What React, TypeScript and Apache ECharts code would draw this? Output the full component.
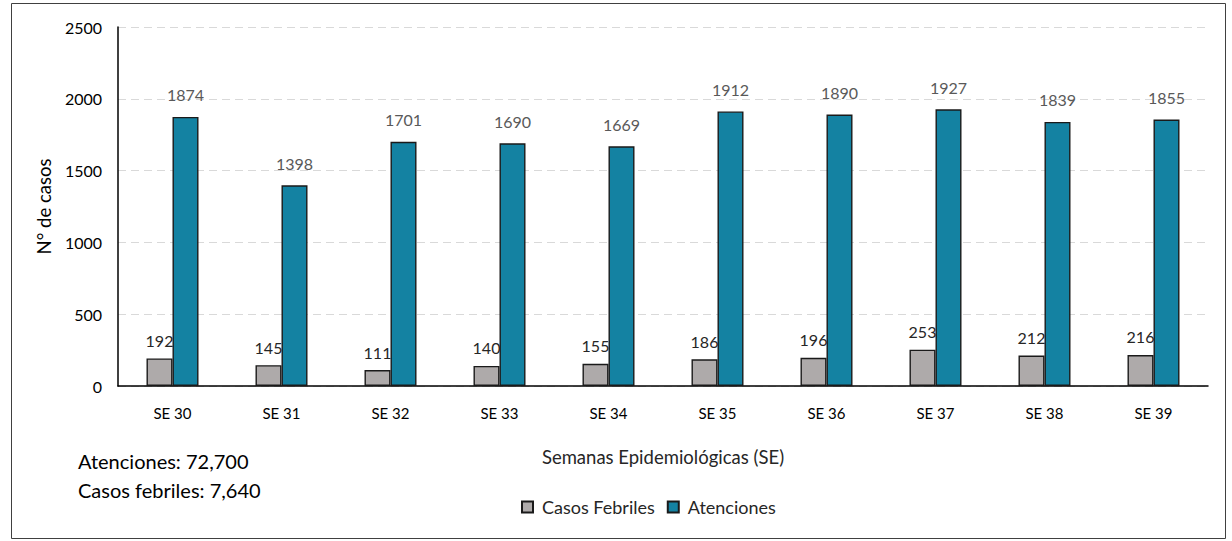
import React, { useEffect, useRef } from "react";
import * as echarts from "echarts";

const categories = ["SE 30", "SE 31", "SE 32", "SE 33", "SE 34", "SE 35", "SE 36", "SE 37", "SE 38", "SE 39"];
const casosFebriles = [192, 145, 111, 140, 155, 186, 196, 253, 212, 216];
const atenciones = [1874, 1398, 1701, 1690, 1669, 1912, 1890, 1927, 1839, 1855];
const summaryLines = ["Atenciones: 72,700", "Casos febriles: 7,640"];

const FONT = "Lato, 'Open Sans', sans-serif";

export default function App() {
  const ref = useRef<HTMLDivElement>(null);
  useEffect(() => {
    if (!ref.current) return;
    const chart = echarts.init(ref.current, undefined, { renderer: "svg" });
    chart.setOption({
      animation: false,
      backgroundColor: "#ffffff",
      textStyle: { fontFamily: FONT },
      grid: { left: 118, right: 24, top: 27, bottom: 155, containLabel: false },
      legend: {
        bottom: 20,
        left: 516,
        itemWidth: 11,
        itemHeight: 11,
        itemGap: 12,
        icon: "rect",
        textStyle: { fontFamily: FONT, fontSize: 18, color: "#262626", padding: [0, 0, 0, 4] },
        data: ["Casos Febriles", "Atenciones"],
      },
      xAxis: {
        type: "category",
        data: categories,
        name: "Semanas Epidemiológicas (SE)",
        nameLocation: "middle",
        nameGap: 61,
        nameTextStyle: { fontFamily: FONT, fontSize: 18.5, color: "#262626" },
        axisLine: { lineStyle: { color: "#000", width: 1.5 } },
        axisTick: { show: false },
        axisLabel: { fontFamily: FONT, fontSize: 15, color: "#000", margin: 19 },
      },
      yAxis: {
        type: "value",
        min: 0,
        max: 2500,
        interval: 500,
        name: "N° de casos",
        nameLocation: "middle",
        nameGap: 54,
        nameRotate: 90,
        nameTextStyle: { fontFamily: FONT, fontSize: 18.5, color: "#000" },
        axisLine: { show: true, lineStyle: { color: "#000", width: 1.5 } },
        axisTick: { show: false },
        axisLabel: {
          fontFamily: FONT,
          fontSize: 16,
          color: "#000",
          margin: 16,
          formatter: (v: number) => String(v),
        },
        splitLine: { lineStyle: { color: "#d9d9d9", type: [8, 5], width: 1.2 } },
      },
      series: [
        {
          name: "Casos Febriles",
          type: "bar",
          data: casosFebriles,
          barWidth: 26,
          barGap: "0%",
          itemStyle: { color: "#aeaaaa", borderColor: "#1a1a1a", borderWidth: 1.4 },
          label: {
            show: true,
            position: "top",
            distance: 10,
            fontFamily: FONT,
            fontSize: 16,
            color: "#262626",
          },
        },
        {
          name: "Atenciones",
          type: "bar",
          data: atenciones,
          barWidth: 26,
          itemStyle: { color: "#1482a2", borderColor: "#1a1a1a", borderWidth: 1.4 },
          label: {
            show: true,
            position: "top",
            distance: 14,
            fontFamily: FONT,
            fontSize: 16,
            color: "#595959",
          },
        },
      ],
      graphic: [
        {
          type: "rect",
          shape: { x: 11.5, y: 3.5, width: 1214, height: 535 },
          style: { fill: "none", stroke: "#404040", lineWidth: 1 },
          silent: true,
          z: -1,
        },
        {
          type: "text",
          left: 78,
          top: 451,
          style: { text: summaryLines[0], fontFamily: FONT, fontSize: 20, fill: "#000" },
        },
        {
          type: "text",
          left: 78,
          top: 480,
          style: { text: summaryLines[1], fontFamily: FONT, fontSize: 20, fill: "#000" },
        },
      ],
    });
    return () => chart.dispose();
  }, []);
  return (
    <div
      ref={ref}
      style={{ position: "fixed", left: 0, top: 0, width: 1232, height: 541, background: "#fff" }}
    />
  );
}
